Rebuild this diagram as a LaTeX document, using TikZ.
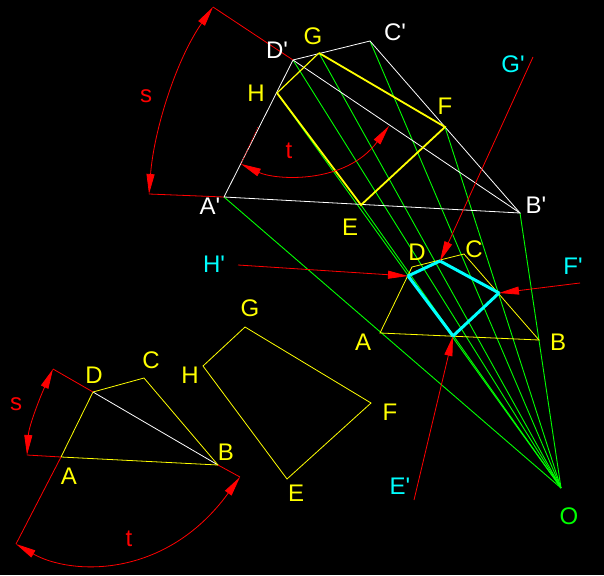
\documentclass[tikz,border=0pt]{standalone}
\usepackage{fontspec}
\newfontfamily\labelfont{Liberation Sans}
\usepackage{tikz}
\usetikzlibrary{arrows.meta}
\definecolor{pcyan}{RGB}{0,255,255}
\definecolor{pgreen}{RGB}{0,255,0}
\definecolor{pred}{RGB}{255,0,0}
\definecolor{pyellow}{RGB}{255,255,0}
\tikzstyle{lab} = [inner sep=0pt, font=\labelfont\fontsize{24}{24}\selectfont]
\tikzstyle{ylab} = [lab, text=pyellow]
\tikzstyle{wlab} = [lab, text=white]
\tikzstyle{rlab} = [lab, text=pred]
\tikzstyle{clab} = [lab, text=pcyan]
\tikzstyle{wline} = [draw=white, line width=0.8pt]
\tikzstyle{yline} = [draw=pyellow, line width=0.8pt]
\tikzstyle{ybold} = [draw=pyellow, line width=1.8pt]
\tikzstyle{gline} = [draw=pgreen, line width=0.9pt]
\tikzstyle{rline} = [draw=pred, line width=0.8pt]
\tikzstyle{cbold} = [draw=pcyan, line width=3pt, line join=round]
\tikzstyle{rarrow} = [rline, -{Triangle[length=20pt,width=8pt]}]
\tikzstyle{rboth} = [rline, {Triangle[length=20pt,width=8pt]}-{Triangle[length=20pt,width=8pt]}]

\begin{document}
\begin{tikzpicture}[x=1pt,y=-1pt]
  \fill[black] (0,0) rectangle (604,575);
  \useasboundingbox (0,0) rectangle (604,575);

  % upper plane
  \coordinate (Ap) at (224,197);
  \coordinate (Bp) at (520,213);
  \coordinate (Cp) at (370,41);
  \coordinate (Dp) at (293,60);
  \coordinate (E1) at (361,205);
  \coordinate (F1) at (445,127);
  \coordinate (G1) at (319,53);
  \coordinate (H1) at (277,93);
  % projected quad
  \coordinate (A2) at (380,333);
  \coordinate (B2) at (539,340);
  \coordinate (C2) at (464,254);
  \coordinate (D2) at (412,267);
  \coordinate (E2) at (453,336);
  \coordinate (F2) at (499,293);
  \coordinate (G2) at (440,261);
  \coordinate (H2) at (408,276);
  % flat copy
  \coordinate (A3) at (61,457);
  \coordinate (B3) at (218,465);
  \coordinate (C3) at (144,378);
  \coordinate (D3) at (93,392);
  \coordinate (E3) at (287,479);
  \coordinate (F3) at (371,403);
  \coordinate (G3) at (245,327);
  \coordinate (H3) at (203,366);
  % centre and free ends
  \coordinate (O) at (561,488);
  \coordinate (Ge) at (533,57);
  \coordinate (He) at (238,265);
  \coordinate (Fe) at (580,283);
  \coordinate (Ee) at (414,500);
  \coordinate (sTop) at (213,7);
  \coordinate (sBot) at (149,194);
  \coordinate (tLeft) at (241,164);
  \coordinate (tMid) at (258,127);
  \coordinate (tRight) at (389,126);
  \coordinate (s3Top) at (53,369);
  \coordinate (s3Bot) at (27,455);
  \coordinate (t3Left) at (16,544);
  \coordinate (t3Right) at (240,477);

  \path[gline] (O) edge (Ap) edge (Bp) edge (Cp) edge (Dp)
                   edge (E1) edge (F1) edge (G1) edge (H1);

  \draw[wline] (Ap) -- (Bp) -- (Cp) -- (Dp) -- cycle;
  \draw[wline] (Dp) -- (Bp);
  \draw[wline] (D3) -- (B3);

  \draw[ybold] (H1) -- (E1) -- (F1) -- (G1);
  \draw[yline, line width=1.2pt] (G1) -- (H1);
  \draw[yline] (A2) -- (B2) -- (C2) -- (D2) -- cycle;
  \draw[yline] (A3) -- (B3) -- (C3) -- (D3) -- cycle;
  \draw[yline] (E3) -- (F3) -- (G3) -- (H3) -- cycle;

  \draw[rline] (Dp) -- (sTop);
  \draw[rline] (Ap) -- (sBot);
  \draw[rline, densely dotted] (tLeft) -- (tMid);
  \draw[rline] (D3) -- (s3Top);
  \draw[rline] (A3) -- (s3Bot);
  \draw[rline] (A3) -- (t3Left);
  \draw[rline] (B3) -- (t3Right);
  \draw[rboth] (sBot) .. controls (154,130) and (176,60) .. (sTop);
  \draw[rboth] (tLeft) .. controls (275,180) and (345,185) .. (tRight);
  \draw[rboth] (s3Bot) .. controls (29,425) and (41,395) .. (s3Top);
  \draw[rboth] (t3Left) .. controls (70,575) and (165,580) .. (t3Right);

  \draw[cbold] (E2) -- (F2) -- (G2) -- (H2) -- cycle;
  \draw[rarrow] (Ge) -- (G2);
  \draw[rarrow] (He) -- (H2);
  \draw[rarrow] (Fe) -- (F2);
  \draw[rarrow] (Ee) -- (E2);

  \node[wlab] (labAp) at (210,206) {A'};
  \node[wlab] (labBp) at (536,205) {B'};
  \node[wlab] (labCp) at (395,32) {C'};
  \node[wlab] (labDp) at (277,50) {D'};
  \node[ylab] (labE1) at (350,227) {E};
  \node[ylab] (labF1) at (445,106) {F};
  \node[ylab] (labG1) at (313,36) {G};
  \node[ylab] (labH1) at (256,93) {H};
  \node[ylab] (labA2) at (363,342) {A};
  \node[ylab] (labB2) at (558,342) {B};
  \node[ylab] (labC2) at (474,249) {C};
  \node[ylab] (labD2) at (417,252) {D};
  \node[ylab] (labA3) at (69,476) {A};
  \node[ylab] (labB3) at (226,452) {B};
  \node[ylab] (labC3) at (151,360) {C};
  \node[ylab] (labD3) at (94,375) {D};
  \node[ylab] (labE3) at (296,493) {E};
  \node[ylab] (labF3) at (390,412) {F};
  \node[ylab] (labG3) at (250,308) {G};
  \node[ylab] (labH3) at (190,375) {H};
  \node[clab] (labGe) at (513,64) {G'};
  \node[clab] (labHe) at (214,264) {H'};
  \node[clab] (labFe) at (573,266) {F'};
  \node[clab] (labEe) at (400,486) {E'};
  \node[lab, text=pgreen] (labO) at (569,516) {O};
  \node[rlab] (labs1) at (146,96) {s};
  \node[rlab] (labt1) at (289,151) {t};
  \node[rlab] (labs3) at (16,404) {s};
  \node[rlab] (labt3) at (129,539) {t};
\end{tikzpicture}
\end{document}
